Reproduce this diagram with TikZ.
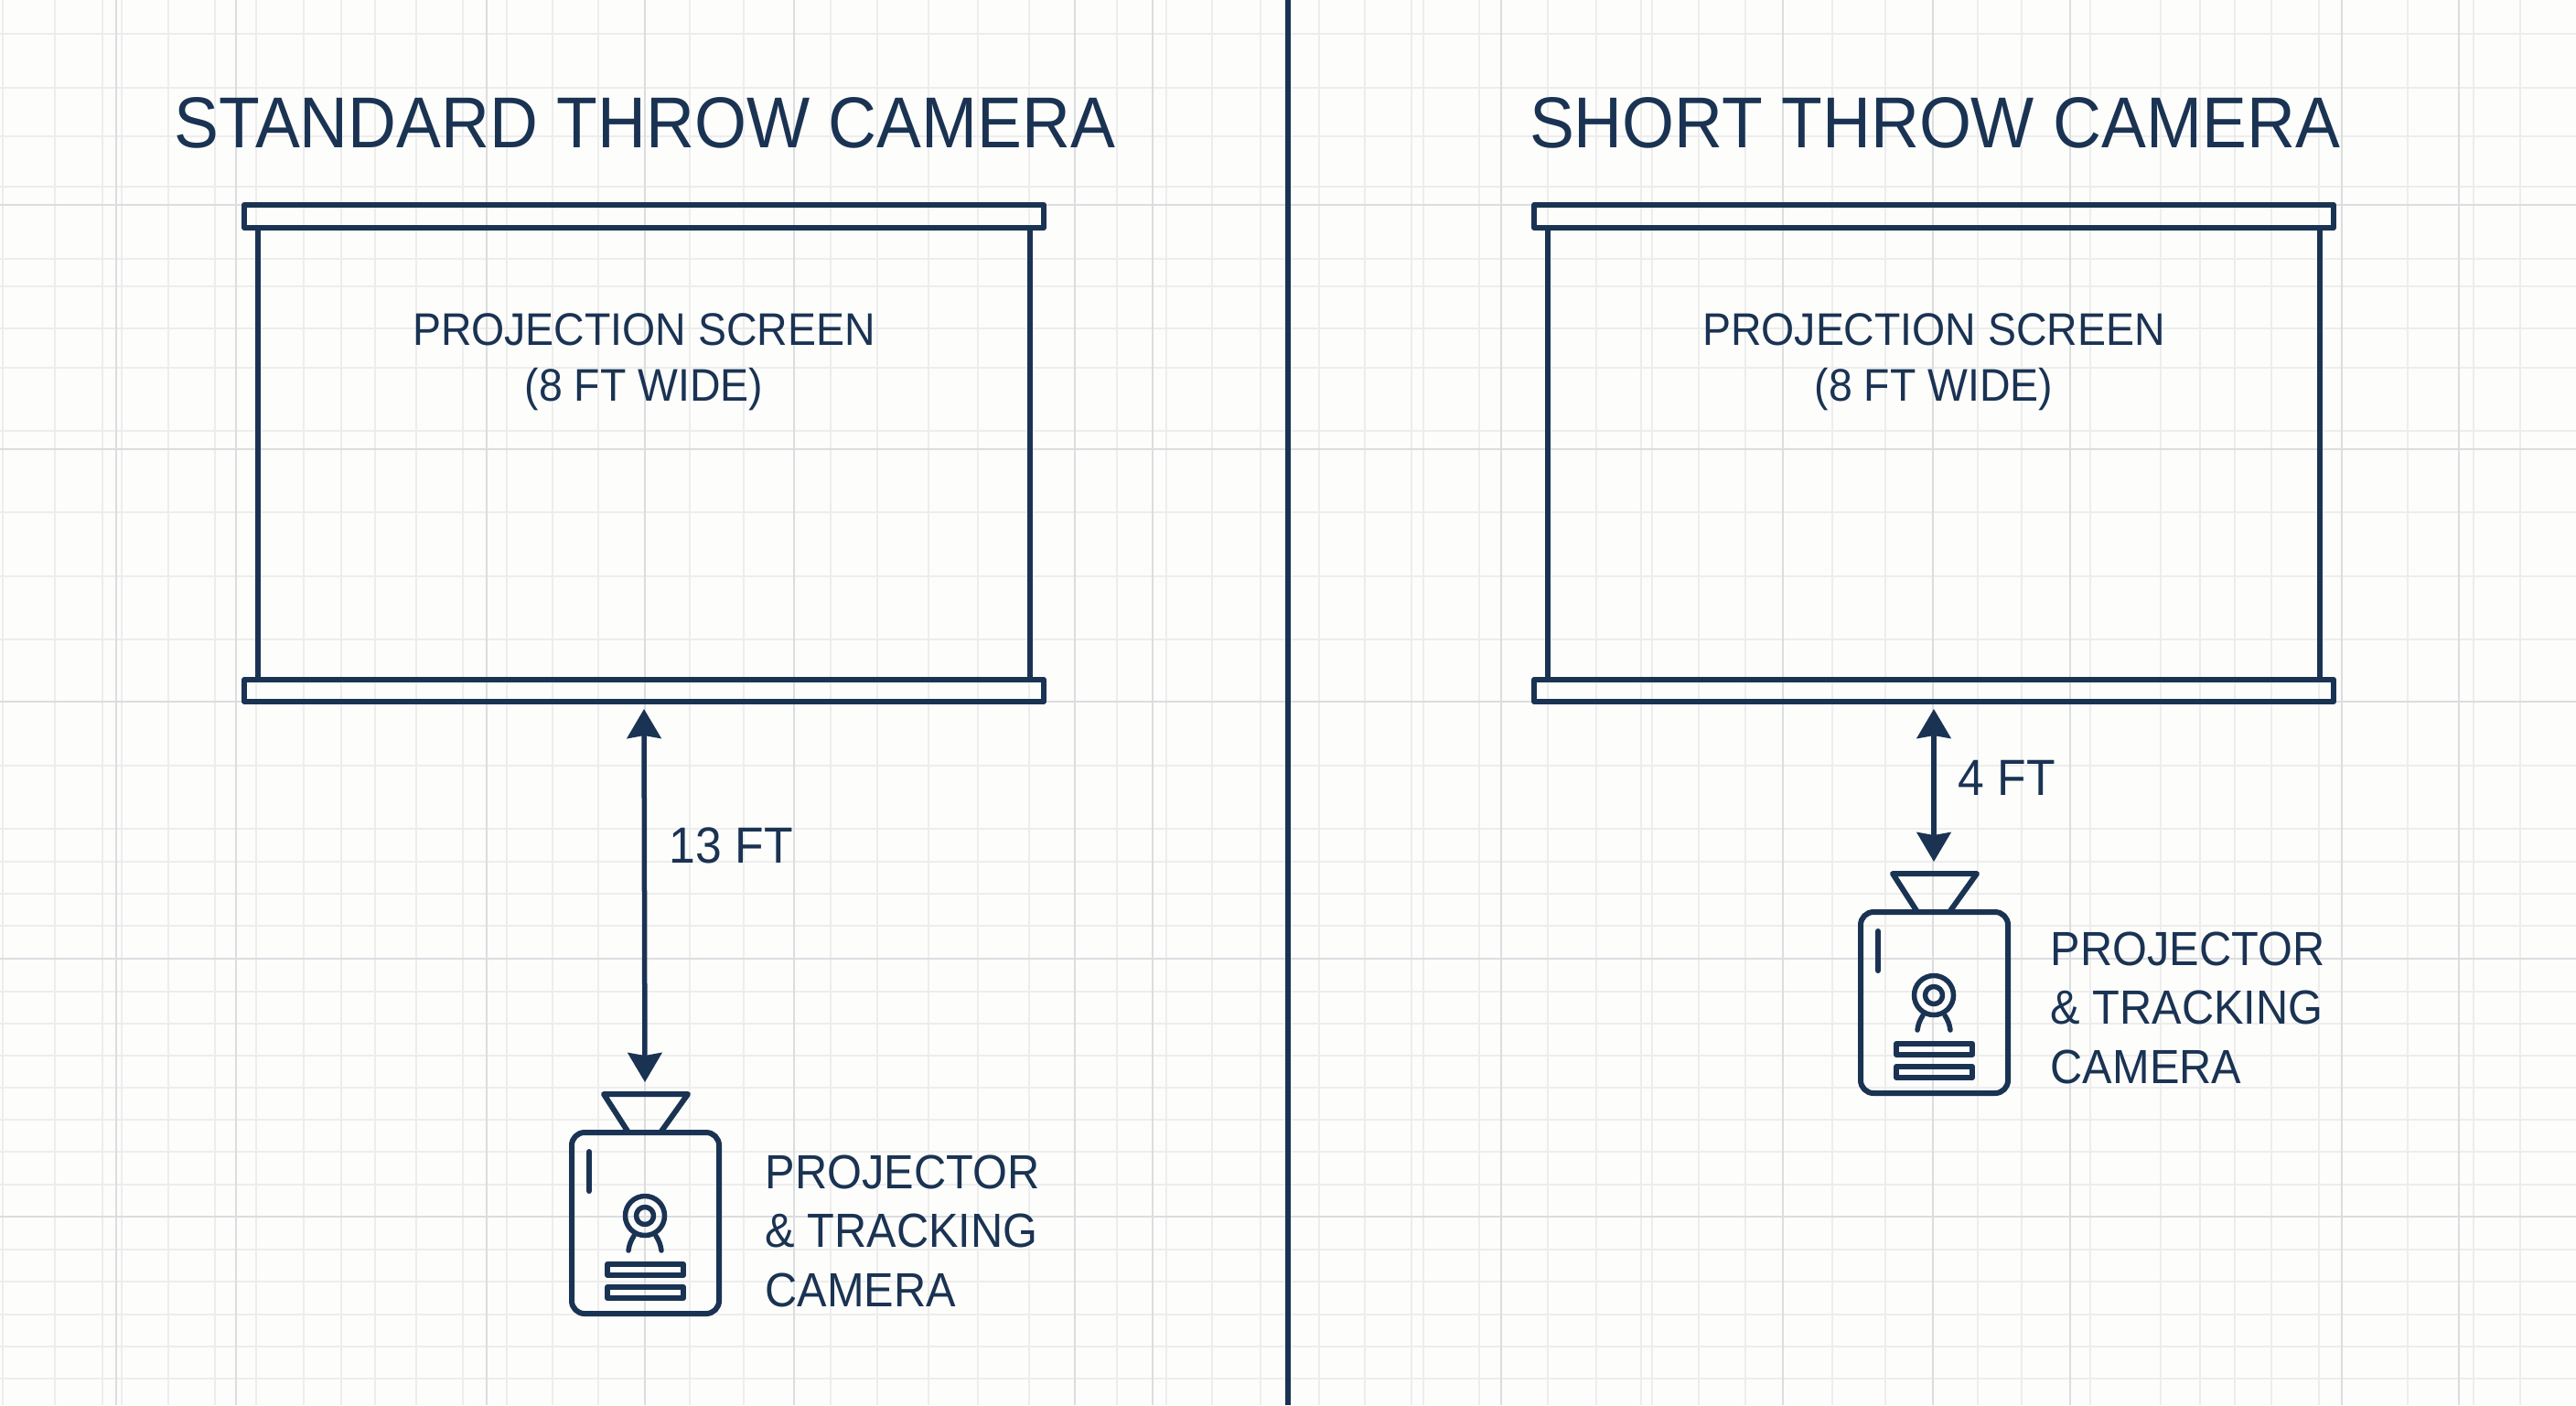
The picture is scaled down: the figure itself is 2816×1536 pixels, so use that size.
\documentclass[tikz,border=0pt]{standalone}
\usepackage{fontspec}
\setmainfont[FakeStretch=0.93]{Liberation Sans}
\usetikzlibrary{arrows.meta}

\definecolor{navy}{HTML}{1A3353}
\definecolor{paper}{HTML}{FDFDFB}
\definecolor{gridlight}{HTML}{EEEDEE}
\definecolor{griddark}{HTML}{DCDDE0}

\tikzset{
  ink/.style={draw=navy,line width=0.06cm,line join=round},
  dimline/.style={draw=navy,line width=0.055cm,{Stealth[length=0.32cm,width=0.37cm,inset=0.03cm]}-{Stealth[length=0.32cm,width=0.37cm,inset=0.03cm]}},
  head/.style={text=navy,inner sep=0pt,anchor=base,font=\fontsize{22.4}{27}\selectfont},
  screentext/.style={text=navy,inner sep=0pt,anchor=base,align=center,font=\fontsize{14.2}{17.07}\selectfont},
  dimtext/.style={text=navy,inner sep=0pt,anchor=base west,font=\fontsize{15.8}{18}\selectfont},
  camtext/.style={text=navy,inner sep=0pt,anchor=base west,align=left,font=\fontsize{14.9}{18.3}\selectfont},
  screenpic/.pic={
    \draw[ink] (-437,-543) rectangle (437,-518);
    \draw[ink] (-437,-24) rectangle (437,0);
    \draw[ink] (-422,-518) -- (-422,-24);
    \draw[ink] (422,-518) -- (422,-24);
    \coordinate (-gap) at (0,8);
  },
  camerapic/.pic={
    \draw[ink,rounded corners=0.14cm] (-80,-99) rectangle (81,99);
    \draw[ink] (-18,-99) -- (-45,-141) -- (47,-141) -- (17,-99);
    \draw[ink,line cap=round] (-61,-78) -- (-61,-35);
    \draw[ink,line width=0.055cm] (0,-8) circle [radius=21.5];
    \draw[ink,line width=0.055cm] (0,-8) circle [radius=9.5];
    \draw[ink,line width=0.055cm,line cap=round] (-12,14) to[bend right=12] (-18,30);
    \draw[ink,line width=0.055cm,line cap=round] (12,14) to[bend left=12] (18,30);
    \draw[ink] (-41,45) rectangle (42,57);
    \draw[ink] (-41,70) rectangle (42,82);
    \coordinate (-gap) at (0,-154);
  }
}

\begin{document}
\begin{tikzpicture}[x=0.01cm,y=-0.01cm]
\fill[paper] (0,0) rectangle (2816,1536);
\useasboundingbox (0,0) rectangle (2816,1536);

% grid
\foreach \x in {3,60,112,133,184,235,280,332,373,410,455,506,554,604,654,754,813,908,959,1015,1069,1125,1221,1275,1325,1378,1442,1492,1543,1556,1617,1692,1745,1794,1806,1857,1908,2003,2061,2162,2210,2285,2362,2405,2443,2483,2535,2632,2704,2755}
  \draw[gridlight,line width=0.017cm] (\x,0) -- (\x,1536);
\foreach \y in {37,96,149,204,283,313,359,402,471,560,630,699,837,906,942,977,1012,1084,1119,1154,1189,1224,1259,1295,1366,1401,1437,1472,1507}
  \draw[gridlight,line width=0.017cm] (0,\y) -- (2816,\y);
\foreach \x in {127,258,532,705,868,1175,1260,1641,1949,2113,2263,2560,2688}
  \draw[griddark,line width=0.02cm] (\x,0) -- (\x,1536);
\foreach \y in {224,491,767,1048,1330}
  \draw[griddark,line width=0.02cm] (0,\y) -- (2816,\y);

% divider
\coordinate (divtop) at (1408,0); \coordinate (divbot) at (1408,1536);
\draw[navy,line width=0.055cm] (divtop) -- (divbot);

% standard throw
\node[head] (titleA) at (705,161) {STANDARD THROW CAMERA};
\pic (screenA) at (704,767) {screenpic};
\node[screentext] (labelA) at (704,438) {PROJECTION SCREEN\\(8 FT WIDE)};
\pic (camA) at (705,1337) {camerapic};
\draw[dimline] (screenA-gap) -- (camA-gap);
\node[dimtext] (dimA) at (731,943) {13 FT};
\node[camtext] (camlabelA) at (836,1428) {PROJECTOR\\\& TRACKING\\CAMERA};

% short throw
\node[head] (titleB) at (2115,161) {SHORT THROW CAMERA};
\pic (screenB) at (2114,767) {screenpic};
\node[screentext] (labelB) at (2114,438) {PROJECTION SCREEN\\(8 FT WIDE)};
\pic (camB) at (2114,1096) {camerapic};
\draw[dimline] (screenB-gap) -- (camB-gap);
\node[dimtext] (dimB) at (2140,869) {4 FT};
\node[camtext] (camlabelB) at (2241,1184) {PROJECTOR\\\& TRACKING\\CAMERA};
\end{tikzpicture}
\end{document}
